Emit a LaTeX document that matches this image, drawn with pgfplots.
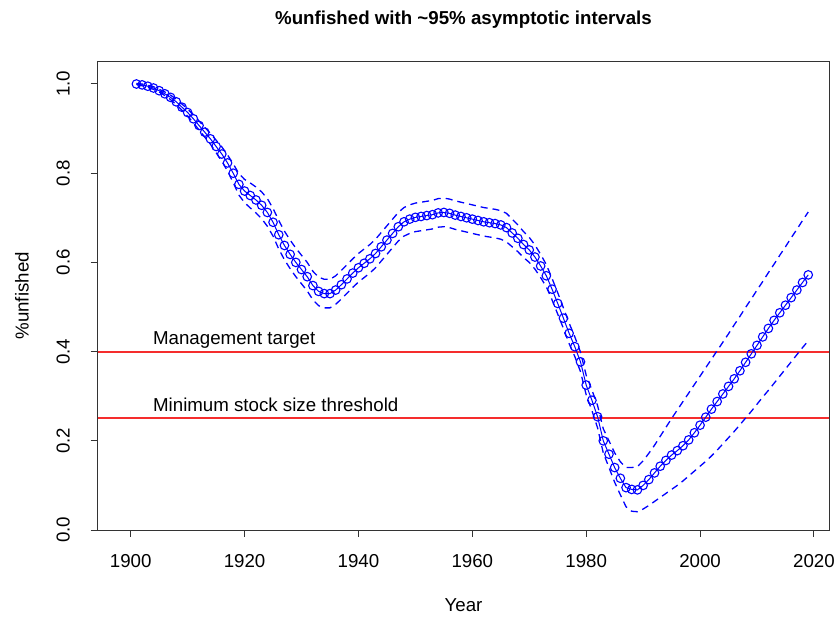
\documentclass[border=0pt]{standalone}
\usepackage{fontspec}
\setmainfont{Liberation Sans}
\usepackage{pgfplots}
\pgfplotsset{compat=1.18}
\usepackage{pgfplotstable}
\definecolor{RBlue}{RGB}{0,0,255}
\definecolor{RRed}{RGB}{245,45,45}
\newcommand\rfont{\fontsize{18.7bp}{22bp}\selectfont}

% year, estimate, lower and upper ~95% bounds
\pgfplotstableread{
year est lo hi
1901 1.000 0.999 1.001
1902 0.998 0.996 1.000
1903 0.995 0.993 0.997
1904 0.991 0.988 0.994
1905 0.985 0.982 0.988
1906 0.978 0.974 0.982
1907 0.970 0.965 0.975
1908 0.960 0.954 0.966
1909 0.948 0.941 0.955
1910 0.936 0.928 0.944
1911 0.922 0.913 0.931
1912 0.907 0.897 0.917
1913 0.892 0.881 0.903
1914 0.877 0.865 0.889
1915 0.860 0.846 0.874
1916 0.843 0.827 0.859
1917 0.823 0.805 0.841
1918 0.800 0.779 0.821
1919 0.775 0.751 0.799
1920 0.760 0.734 0.786
1921 0.750 0.722 0.778
1922 0.740 0.711 0.769
1923 0.728 0.698 0.758
1924 0.712 0.681 0.743
1925 0.690 0.659 0.721
1926 0.662 0.630 0.694
1927 0.638 0.606 0.670
1928 0.618 0.586 0.650
1929 0.600 0.568 0.632
1930 0.584 0.552 0.616
1931 0.568 0.536 0.600
1932 0.548 0.516 0.580
1933 0.535 0.503 0.567
1934 0.530 0.498 0.562
1935 0.530 0.498 0.562
1936 0.538 0.506 0.570
1937 0.550 0.518 0.582
1938 0.563 0.531 0.595
1939 0.576 0.544 0.608
1940 0.588 0.556 0.620
1941 0.598 0.566 0.630
1942 0.608 0.576 0.640
1943 0.620 0.588 0.652
1944 0.635 0.603 0.667
1945 0.650 0.618 0.682
1946 0.665 0.633 0.697
1947 0.680 0.648 0.712
1948 0.691 0.659 0.723
1949 0.697 0.665 0.729
1950 0.701 0.669 0.733
1951 0.703 0.671 0.735
1952 0.705 0.673 0.737
1953 0.707 0.675 0.739
1954 0.711 0.679 0.743
1955 0.712 0.680 0.744
1956 0.710 0.678 0.742
1957 0.706 0.674 0.738
1958 0.703 0.671 0.735
1959 0.700 0.668 0.732
1960 0.697 0.665 0.729
1961 0.694 0.662 0.726
1962 0.691 0.659 0.723
1963 0.689 0.657 0.721
1964 0.687 0.655 0.719
1965 0.684 0.652 0.716
1966 0.678 0.646 0.710
1967 0.666 0.635 0.697
1968 0.654 0.624 0.684
1969 0.640 0.611 0.669
1970 0.628 0.600 0.656
1971 0.612 0.585 0.639
1972 0.592 0.566 0.618
1973 0.570 0.545 0.595
1974 0.540 0.516 0.564
1975 0.508 0.484 0.532
1976 0.475 0.452 0.498
1977 0.441 0.418 0.464
1978 0.411 0.389 0.433
1979 0.377 0.355 0.399
1980 0.325 0.303 0.347
1981 0.291 0.268 0.314
1982 0.254 0.229 0.279
1983 0.200 0.173 0.227
1984 0.170 0.140 0.200
1985 0.140 0.107 0.173
1986 0.116 0.079 0.153
1987 0.095 0.052 0.140
1988 0.091 0.042 0.140
1989 0.090 0.041 0.142
1990 0.100 0.047 0.155
1991 0.113 0.055 0.172
1992 0.128 0.064 0.190
1993 0.143 0.073 0.210
1994 0.156 0.082 0.230
1995 0.168 0.091 0.250
1996 0.178 0.100 0.269
1997 0.189 0.110 0.288
1998 0.202 0.121 0.307
1999 0.218 0.132 0.326
2000 0.235 0.143 0.345
2001 0.253 0.154 0.364
2002 0.271 0.166 0.383
2003 0.288 0.179 0.402
2004 0.305 0.193 0.421
2005 0.322 0.207 0.440
2006 0.339 0.221 0.460
2007 0.357 0.236 0.479
2008 0.376 0.251 0.499
2009 0.395 0.266 0.518
2010 0.414 0.282 0.538
2011 0.433 0.298 0.557
2012 0.452 0.313 0.577
2013 0.470 0.329 0.596
2014 0.487 0.345 0.616
2015 0.504 0.361 0.635
2016 0.521 0.377 0.655
2017 0.538 0.393 0.674
2018 0.555 0.409 0.694
2019 0.572 0.424 0.713
}\unfished

% reference points
\pgfplotstableread{
year target limit
1894.2 0.40 0.25
2022.7 0.40 0.25
}\refpts

\begin{document}
\begin{tikzpicture}
\begin{axis}[
    scale only axis,
    width=731.6bp, height=468.3bp,
    xmin=1894.2, xmax=2022.7,
    ymin=0, ymax=1.05,
    axis line style={line width=1bp, black!80},
    xtick={1900,1920,...,2020},
    ytick={0,0.2,0.4,0.6,0.8,1.0},
    tick align=outside,
    xtick pos=bottom, ytick pos=left,
    major tick length=7bp,
    tick style={line width=1bp, black!80},
    tick label style={font=\rfont},
    /pgf/number format/assume math mode=true,
    xticklabel style={/pgf/number format/1000 sep={}, anchor=base, yshift=-30bp},
    yticklabel style={/pgf/number format/.cd, fixed, fixed zerofill, precision=1,
        /tikz/.cd, xshift=-21bp, rotate=90, anchor=base},
    clip=false,
]
\addplot[draw=RRed, line width=2bp] table[x=year, y=target] {\refpts};
\addplot[draw=RRed, line width=2bp] table[x=year, y=limit] {\refpts};
\addplot[RBlue, line width=1.3bp, dash pattern=on 7bp off 5bp] table[x=year, y=lo] {\unfished};
\addplot[RBlue, line width=1.3bp, dash pattern=on 7bp off 5bp] table[x=year, y=hi] {\unfished};
\addplot[RBlue, line width=1bp, mark=o, mark size=4.3bp,
    mark options={line width=1.1bp, solid}] table[x=year, y=est] {\unfished};
\node[anchor=base west, font=\rfont, inner sep=0pt] at (axis cs:1903.9,0.415) {Management target};
\node[anchor=base west, font=\rfont, inner sep=0pt] at (axis cs:1903.9,0.265) {Minimum stock size threshold};
\node[anchor=base, font=\rfont\bfseries, inner sep=0pt] at ([yshift=37.2bp]rel axis cs:0.5,1) {\%unfished with \textasciitilde 95\% asymptotic intervals};
\node[anchor=base, font=\rfont, inner sep=0pt] at ([yshift=-81bp]rel axis cs:0.5,0) {Year};
\node[anchor=base, rotate=90, font=\rfont, inner sep=0pt] at ([xshift=-69bp]rel axis cs:0,0.5) {\%unfished};
\coordinate (bl) at (rel axis cs:0,0);
\coordinate (tr) at (rel axis cs:1,1);
\end{axis}
\pgfresetboundingbox
\path ([xshift=-97.7bp,yshift=-89bp]bl) rectangle ([xshift=5.7bp,yshift=61.7bp]tr);
\end{tikzpicture}
\end{document}
